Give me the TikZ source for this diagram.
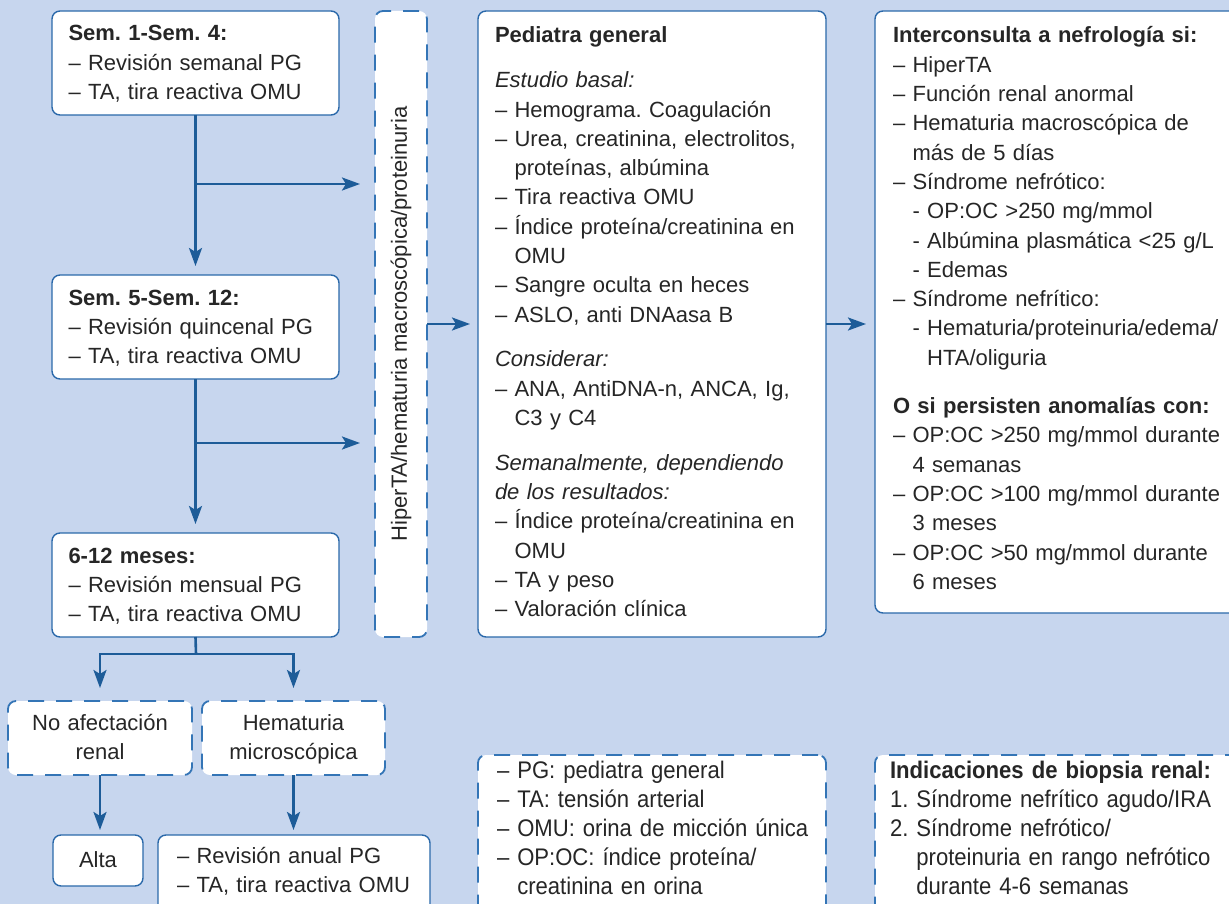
\documentclass[tikz,border=0pt]{standalone}
\usepackage{fontspec}
\usepackage{graphicx}
\setmainfont{Liberation Sans}
\newfontfamily\condfont{Liberation Sans}[FakeStretch=0.92]
\usetikzlibrary{arrows.meta}
\definecolor{bgblue}{HTML}{C7D6EE}
\definecolor{bordblue}{HTML}{2B69AA}
\definecolor{dashblue}{HTML}{3475B6}
\definecolor{arrblue}{HTML}{1D5C98}
\definecolor{txt}{HTML}{262626}
\newcommand{\di}{\phantom{–\ }}
\newcommand{\hi}{\phantom{-\ }}
\frenchspacing
\begin{document}
\frenchspacing
\begin{tikzpicture}[x=1pt,y=-1pt,
  box/.style={draw=bordblue, line width=1.4pt, fill=white, rounded corners=8pt,
    inner ysep=0pt, outer sep=0pt, align=left, text=txt,
    font=\frenchspacing\fontsize{22}{29.3}\selectfont, anchor=base west},
  dbox/.style={box, draw=dashblue, line width=1.8pt, dash pattern=on 16pt off 12pt},
  condtext/.style={font=\frenchspacing\condfont\fontsize{24}{29.1}\selectfont},
  arr/.style={draw=arrblue, line width=2.6pt, -{Stealth[length=18pt,width=13pt,inset=4pt]}},
  ln/.style={draw=arrblue, line width=2.6pt}
]
\useasboundingbox (0,0) rectangle (1229,904);
\clip (0,0) rectangle (1229,904);
\fill[bgblue] (0,0) rectangle (1229,904);

% left column
\node[box, inner xsep=16.5pt, text width=254pt, text height=30pt, text depth=74pt] (b1) at (52,41)
  {\textbf{Sem. 1-Sem. 4:}\\– Revisión semanal PG\\– TA, tira reactiva OMU};
\node[box, inner xsep=16.5pt, text width=254pt, text height=30pt, text depth=74pt] (b2) at (52,305)
  {\textbf{Sem. 5-Sem. 12:}\\– Revisión quincenal PG\\– TA, tira reactiva OMU};
\node[box, inner xsep=16.5pt, text width=254pt, text height=30pt, text depth=74pt] (b3) at (52,563)
  {\textbf{6-12 meses:}\\– Revisión mensual PG\\– TA, tira reactiva OMU};

% vertical dashed box
\node[dbox, anchor=center, align=center, inner sep=0pt, minimum width=52pt, minimum height=626pt] (vb) at (401,324)
  {\rotatebox{90}{HiperTA/hematuria macroscópica/proteinuria}};

% pediatra general
\node[box, inner xsep=17pt, text width=314pt, text height=32pt, text depth=594pt] (ped) at (478,43)
  {\textbf{Pediatra general}\\[15.5pt]
   \textit{Estudio basal:}\\
   – Hemograma. Coagulación\\
   – Urea, creatinina, electrolitos,\\
   \di proteínas, albúmina\\
   – Tira reactiva OMU\\
   – Índice proteína/creatinina en\\
   \di OMU\\
   – Sangre oculta en heces\\
   – ASLO, anti DNAasa B\\[15.5pt]
   \textit{Considerar:}\\
   – ANA, AntiDNA-n, ANCA, Ig,\\
   \di C3 y C4\\[15.5pt]
   \textit{Semanalmente, dependiendo}\\
   \textit{de los resultados:}\\
   – Índice proteína/creatinina en\\
   \di OMU\\
   – TA y peso\\
   – Valoración clínica};

% interconsulta
\node[box, inner xsep=18pt, text width=390pt, text height=32pt, text depth=570pt] (rb) at (875,43)
  {\textbf{Interconsulta a nefrología si:}\\
   – HiperTA\\
   – Función renal anormal\\
   – Hematuria macroscópica de\\
   \di más de 5 días\\
   – Síndrome nefrótico:\\
   \di - OP:OC >250 mg/mmol\\
   \di - Albúmina plasmática <25 g/L\\
   \di - Edemas\\
   – Síndrome nefrítico:\\
   \di - Hematuria/proteinuria/edema/\\
   \di\hi HTA/oliguria\\[19pt]
   \textbf{O si persisten anomalías con:}\\
   – OP:OC >250 mg/mmol durante\\
   \di 4 semanas\\
   – OP:OC >100 mg/mmol durante\\
   \di 3 meses\\
   – OP:OC >50 mg/mmol durante\\
   \di 6 meses};

% lower left
\node[dbox, align=center, inner xsep=4pt, text width=176pt, text height=29pt, text depth=45pt] (na) at (8,730)
  {No afectación\\renal};
\node[dbox, align=center, inner xsep=4pt, text width=175pt, text height=29pt, text depth=45pt] (hm) at (202,730)
  {Hematuria\\microscópica};
\node[box, align=center, inner xsep=4pt, text width=82pt, text height=32pt, text depth=19pt] (alta) at (53,867)
  {Alta};
\node[box, inner xsep=19pt, text width=234pt, text height=28pt, text depth=100pt] (ra) at (158,863)
  {– Revisión anual PG\\– TA, tira reactiva OMU};

% legend and biopsy
\node[dbox, condtext, inner xsep=19pt, text width=310pt, text height=23pt, text depth=150pt] (lg) at (478,778)
  {– PG: pediatra general\\
   – TA: tensión arterial\\
   \mbox{– OMU: orina de micción única}\\
   – OP:OC: índice proteína/\\
   \di creatinina en orina};
\node[dbox, condtext, inner xsep=15pt, text width=400pt, text height=23pt, text depth=150pt] (bp) at (875,778)
  {\textbf{Indicaciones de biopsia renal:}\\
   1. Síndrome nefrítico agudo/IRA\\
   2. Síndrome nefrótico/\\
   \phantom{2.\ }proteinuria en rango nefrótico\\
   \phantom{2.\ }durante 4-6 semanas};

% connectors
\coordinate (j1) at (196,184);
\coordinate (j2) at (196,443);
\coordinate (s0) at (196,654);
\draw[arr, shorten >=9pt] (b1.south) -- (b2.north);
\draw[arr, shorten >=15pt] (j1) -- (j1 -| vb.west);
\draw[arr, shorten >=9pt] (b2.south) -- (b3.north);
\draw[arr, shorten >=15pt] (j2) -- (j2 -| vb.west);
\draw[arr, shorten >=8pt] (vb.east) -- (vb.east -| ped.west);
\draw[arr, shorten >=9pt] (ped.east) -- (ped.east -| rb.west);
\draw[ln] (b3.south) -- (s0);
\draw[arr, shorten >=13pt] (s0) -| (na.north);
\draw[arr, shorten >=13pt] (s0) -| (hm.north);
\draw[arr, shorten >=5pt] (na.south) -- (na.south |- alta.north);
\draw[arr, shorten >=5pt] (hm.south) -- (hm.south |- ra.north);
\end{tikzpicture}
\end{document}
